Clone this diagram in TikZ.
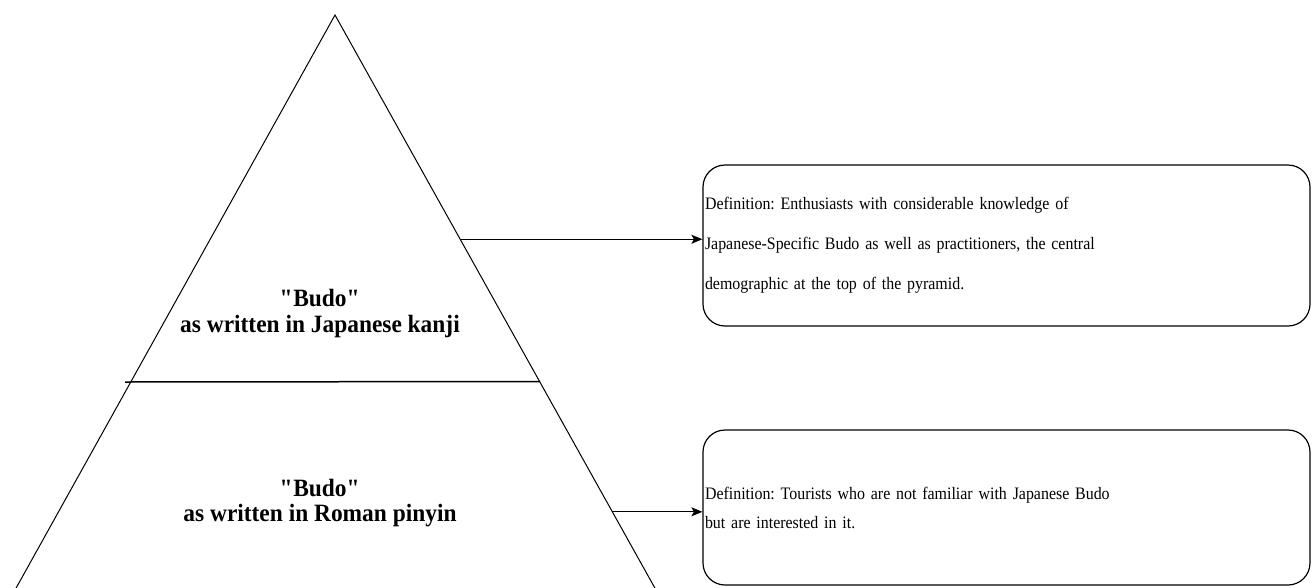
\documentclass[tikz,border=0pt]{standalone}
\usepackage{fontspec}
\setmainfont{Liberation Serif}
\newfontfamily\deffont[FakeStretch=0.91]{Liberation Serif}
\newfontfamily\lvlfont[FakeStretch=0.94]{Liberation Serif}
\usetikzlibrary{calc,arrows.meta}
\frenchspacing
\begin{document}
\begin{tikzpicture}[x=1pt,y=-1pt,
  side/.style={draw=black,line width=1pt},
  conn/.style={draw=black,line width=1.1pt,-{Stealth[length=11pt,width=9pt,inset=2.5pt]}},
  defbox/.style={draw=black,line width=1.2pt,rounded corners=22pt,minimum width=607pt,
    inner xsep=1pt,inner ysep=0pt,align=left,text width=603pt,font=\deffont\fontsize{17.5}{40}\selectfont},
  lvl/.style={align=center,font=\lvlfont\fontsize{24.9}{25.5}\selectfont\bfseries,inner sep=0pt}]
\useasboundingbox (0,0) rectangle (1312,587);
\fill[white] (0,0) rectangle (1312,587);
\coordinate (apex) at (335,15);
\coordinate (bl) at (15,590);
\coordinate (br) at (656,590);
\draw[side] (bl) -- (apex) -- (br);
\coordinate (dl) at (125,382);
\coordinate (dr) at (540,381.5);
\draw[line width=1.5pt] (dl) -- (dr);
\node[lvl] (top) at (320,313.5) {\textquotedbl Budo\textquotedbl\\as written in Japanese kanji};
\node[lvl] (bot) at (320,503) {\textquotedbl Budo\textquotedbl\\as written in Roman pinyin};
\node[defbox,minimum height=161pt] (box1) at (1006.5,245.5)
  {Definition: Enthusiasts with considerable knowledge of\\
   Japanese-Specific Budo as well as practitioners, the central\\
   demographic at the top of the pyramid.};
\node[defbox,minimum height=155pt,font=\deffont\fontsize{17.5}{29}\selectfont] (box2) at (1006.5,507.5)
  {Definition: Tourists who are not familiar with Japanese Budo\\
   but are interested in it.};
\coordinate (a1) at ($(apex)!0.39!(br)$);
\coordinate (a2) at ($(apex)!0.864!(br)$);
\draw[conn] (a1) -- (a1 -| box1.west);
\draw[conn] (a2) -- (a2 -| box2.west);
\end{tikzpicture}
\end{document}
